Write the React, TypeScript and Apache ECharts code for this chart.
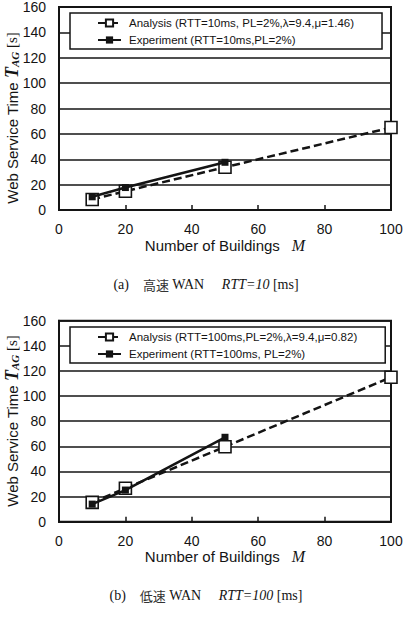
import React, { useEffect, useRef } from "react";
import * as echarts from "echarts";

const buildings = [10, 20, 50, 100];
const expBuildings = [10, 20, 50];
const analysisA = [8.3, 14.8, 33.7, 65];
const experimentA = [10.4, 17.7, 37.6];
const analysisB = [15.4, 26.6, 59.7, 115];
const experimentB = [14, 25.2, 67.2];

const nameAnaA = "Analysis (RTT=10ms, PL=2%,λ=9.4,μ=1.46)";
const nameExpA = "Experiment (RTT=10ms,PL=2%)";
const nameAnaB = "Analysis (RTT=100ms,PL=2%,λ=9.4,μ=0.82)";
const nameExpB = "Experiment (RTT=100ms, PL=2%)";

const SANS = "'Liberation Sans', Arial, sans-serif";
const SERIF = "'Liberation Serif', 'Times New Roman', serif";
const CJK = "'Noto Sans CJK JP', sans-serif";
const INK = "#141414";

const pairs = (xs: number[], ys: number[]) => ys.map((y, i) => [xs[i], y]);

export default function App() {
  const ref = useRef<HTMLDivElement>(null);
  useEffect(() => {
    if (!ref.current) return;
    const chart = echarts.init(ref.current, undefined, { renderer: "svg" });

    const xAxisBase = (gridIndex: number) => ({
      type: "value",
      gridIndex,
      min: 0,
      max: 100,
      interval: 20,
      axisLine: { show: true, lineStyle: { color: INK, width: 2 } },
      axisTick: { show: true, inside: true, length: 5, lineStyle: { color: INK, width: 1.5 } },
      axisLabel: { color: INK, fontSize: 14, fontFamily: SANS, margin: 12 },
      splitLine: { show: false },
      name: "{a|Number of Buildings}{b|   M}",
      nameLocation: "middle",
      nameGap: 27,
      nameTextStyle: {
        rich: {
          a: { fontSize: 15, fontFamily: SANS, color: INK },
          b: { fontSize: 16, fontFamily: SERIF, fontStyle: "italic", color: INK },
        },
      },
    });
    const yAxisBase = (gridIndex: number) => ({
      type: "value",
      gridIndex,
      min: 0,
      max: 160,
      interval: 20,
      axisLine: { show: true, lineStyle: { color: INK, width: 2 } },
      axisTick: { show: false },
      axisLabel: { color: INK, fontSize: 14, fontFamily: SANS, margin: 13 },
      splitLine: { show: true, lineStyle: { color: INK, width: 1.5 } },
    });

    const anaSeries = (name: string, data: number[], idx: number) => ({
      name,
      type: "line",
      xAxisIndex: idx,
      yAxisIndex: idx,
      data: pairs(buildings, data),
      symbol: "rect",
      symbolSize: 12,
      itemStyle: { color: "#ffffff", borderColor: INK, borderWidth: 1.6 },
      lineStyle: { color: INK, width: 2.5, type: [8, 4] },
      z: 3,
    });
    const expSeries = (name: string, data: number[], idx: number) => ({
      name,
      type: "line",
      xAxisIndex: idx,
      yAxisIndex: idx,
      data: pairs(expBuildings, data),
      symbol: "rect",
      symbolSize: 7,
      itemStyle: { color: INK, borderColor: INK, borderWidth: 0 },
      lineStyle: { color: INK, width: 2.5, type: "solid" },
      z: 4,
    });

    const legendBase = (top: number, data: string[]) => ({
      orient: "vertical",
      left: 70,
      top,
      data,
      padding: [4, 28, 3, 27],
      itemGap: 5,
      itemWidth: 23,
      itemHeight: 9,
      borderColor: INK,
      borderWidth: 1.5,
      backgroundColor: "#ffffff",
      textStyle: { fontSize: 11.5, fontFamily: SANS, color: INK, padding: [0, 0, 0, 3] },
      selectedMode: false,
    });

    const yName = (x: number, y: number) => ({
      type: "text",
      x,
      y,
      rotation: Math.PI / 2,
      style: {
        text: "{a|Web Service Time }{t|T}{s|AG}{b| [s]}",
        align: "center",
        verticalAlign: "middle",
        rich: {
          a: { fontSize: 15, fontFamily: SANS, fill: INK },
          t: { fontSize: 18, fontFamily: SERIF, fontStyle: "italic", fontWeight: "bold", fill: INK },
          s: { fontSize: 11, fontFamily: SERIF, fontStyle: "italic", fontWeight: "bold", fill: INK, padding: [6, 0, 0, 0] },
          b: { fontSize: 15, fontFamily: SERIF, fill: INK },
        },
      },
    });

    const caption = (x: number, y: number, label: string, cjk: string, rtt: string) => ({
      type: "text",
      x,
      y,
      style: {
        text: `{p|${label}}{p|    }{c|${cjk}}{p| WAN     }{i|RTT=${rtt}}{p| [ms]}`,
        align: "center",
        verticalAlign: "middle",
        rich: {
          p: { fontSize: 14, fontFamily: SERIF, fill: INK },
          c: { fontSize: 13, fontFamily: CJK, fill: "#333" },
          i: { fontSize: 14, fontFamily: SERIF, fontStyle: "italic", fill: INK },
        },
      },
    });

    chart.setOption({
      animation: false,
      backgroundColor: "#ffffff",
      grid: [
        { left: 59, top: 4.5, width: 332, height: 205.5, show: true, borderColor: INK, borderWidth: 2, backgroundColor: "transparent" },
        { left: 59, top: 320.7, width: 332, height: 201, show: true, borderColor: INK, borderWidth: 2, backgroundColor: "transparent" },
      ],
      xAxis: [xAxisBase(0), xAxisBase(1)],
      yAxis: [yAxisBase(0), yAxisBase(1)],
      legend: [legendBase(13, [nameAnaA, nameExpA]), legendBase(327, [nameAnaB, nameExpB])],
      series: [
        anaSeries(nameAnaA, analysisA, 0),
        expSeries(nameExpA, experimentA, 0),
        anaSeries(nameAnaB, analysisB, 1),
        expSeries(nameExpB, experimentB, 1),
      ],
      graphic: [
        yName(12, 118),
        yName(12, 421),
        caption(206, 284, "(a)", "高速", "10"),
        caption(206, 595, "(b)", "低速", "100"),
      ],
    });
    return () => chart.dispose();
  }, []);
  return <div ref={ref} style={{ position: "fixed", left: 0, top: 0, width: 408, height: 619 }} />;
}
